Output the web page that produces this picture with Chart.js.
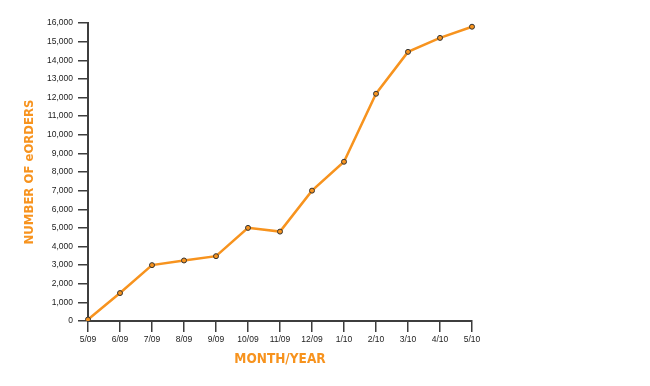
<!DOCTYPE html>
<html>
<head>
<meta charset="utf-8">
<script src="https://cdn.jsdelivr.net/npm/chart.js@4.4.1/dist/chart.umd.min.js"></script>
<style>
  html, body { margin: 0; padding: 0; background: #fff; }
  #wrap { width: 650px; height: 386px; position: relative; }
</style>
</head>
<body>
<div id="wrap"><canvas id="orders-chart"></canvas></div>
<script>
// ---- data ----
const months = ['5/09', '6/09', '7/09', '8/09', '9/09', '10/09', '11/09', '12/09', '1/10', '2/10', '3/10', '4/10', '5/10'];
const eOrders = [80, 1500, 3000, 3250, 3480, 5000, 4800, 7000, 8550, 12200, 14450, 15200, 15800];
const yMax = 16000;
const yStep = 1000;

const ORANGE = '#F7931E';
const AXIS = '#3d3d3d';
const TITLE_FONT = "'DejaVu Sans Condensed', 'Liberation Sans', sans-serif";
const TICK_FONT = "'Liberation Sans', sans-serif";

new Chart(document.getElementById('orders-chart'), {
  type: 'line',
  data: {
    labels: months,
    datasets: [{
      label: 'eOrders',
      data: eOrders,
      borderColor: ORANGE,
      borderWidth: 2.5,
      pointRadius: 2.5,
      pointBackgroundColor: ORANGE,
      pointBorderColor: '#333',
      pointBorderWidth: 1,
      tension: 0,
    }],
  },
  options: {
    responsive: true,
    maintainAspectRatio: false,
    animation: false,
    layout: { padding: { left: 0, right: 178, top: 23, bottom: 0 } },
    plugins: {
      legend: { display: false },
      tooltip: { enabled: false },
    },
    scales: {
      x: {
        offset: false,
        grid: {
          drawOnChartArea: false,
          drawTicks: true,
          tickLength: 11,
          color: AXIS,
          lineWidth: 1.5,
        },
        border: { color: AXIS, width: 2 },
        ticks: {
          color: '#222',
          font: { family: TICK_FONT, size: 8.5 },
          padding: 3,
          maxRotation: 0,
          autoSkip: false,
        },
        title: {
          display: true,
          text: 'MONTH/YEAR',
          color: ORANGE,
          font: { family: TITLE_FONT, size: 13.5, weight: 'bold' },
          padding: { top: 0, bottom: 18 },
        },
        afterFit: (scale) => { scale.height = 65; },
      },
      y: {
        min: 0,
        max: yMax,
        grid: {
          drawOnChartArea: false,
          drawTicks: true,
          tickLength: 10,
          color: AXIS,
          lineWidth: 1.5,
        },
        border: { color: AXIS, width: 2 },
        ticks: {
          stepSize: yStep,
          color: '#222',
          font: { family: TICK_FONT, size: 8.5 },
          padding: 5,
          callback: (v) => v.toLocaleString('en-US'),
        },
        title: {
          display: true,
          text: 'NUMBER OF eORDERS',
          color: ORANGE,
          font: { family: TITLE_FONT, size: 13, weight: 'bold' },
          padding: { top: 22, bottom: 0 },
        },
        afterFit: (scale) => { scale.width = 88; },
      },
    },
  },
});
</script>
</body>
</html>
